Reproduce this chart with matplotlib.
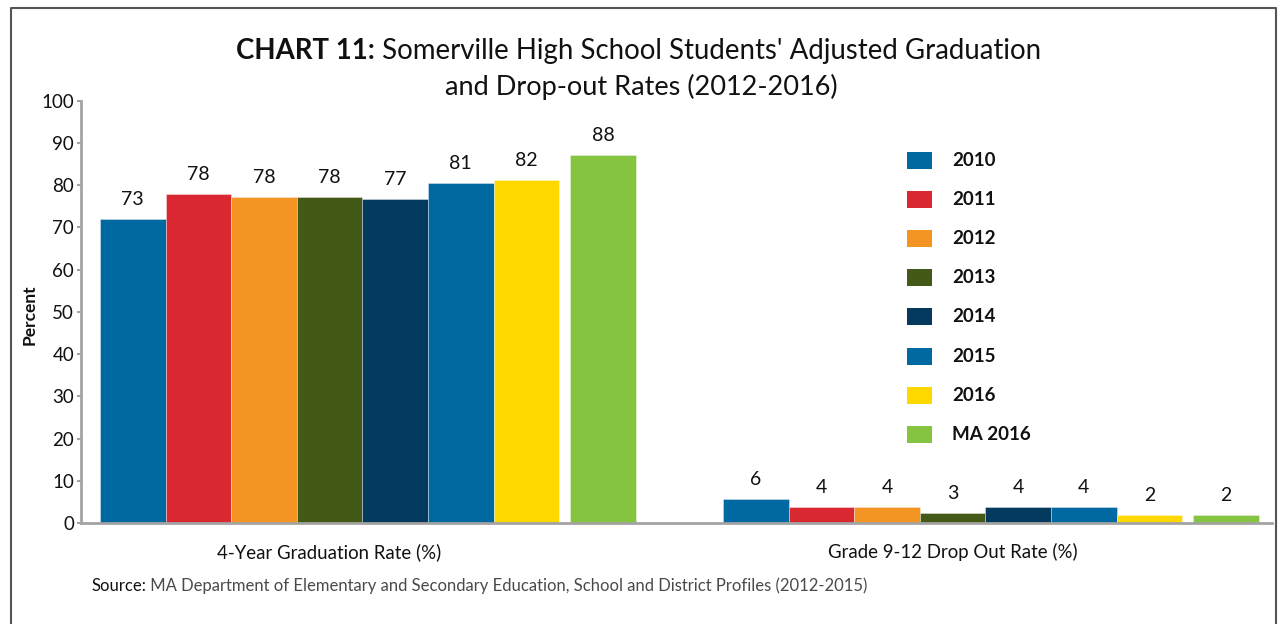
import matplotlib
matplotlib.use('Agg')
import matplotlib.pyplot as plt
from matplotlib.lines import Line2D
from matplotlib.patches import Rectangle
from matplotlib.transforms import blended_transform_factory

plt.rcParams['font.family'] = ['Lato', 'DejaVu Sans']

# ---------------- data ----------------
series = ['2010', '2011', '2012', '2013', '2014', '2015', '2016', 'MA 2016']
colors = ['#0069A1', '#DA2832', '#F49422', '#425A16', '#033A5E', '#0069A1', '#FFD800', '#84C441']
categories = ['4-Year Graduation Rate (%)', 'Grade 9-12 Drop Out Rate (%)']
grad_values = [72.0, 77.9, 77.2, 77.1, 76.7, 80.5, 81.2, 87.1]
grad_labels = ['73', '78', '78', '78', '77', '81', '82', '88']
drop_values = [5.7, 3.8, 3.8, 2.4, 3.8, 3.8, 1.9, 1.8]
drop_labels = ['6', '4', '4', '3', '4', '4', '2', '2']
y_ticks = list(range(0, 101, 10))
title_bold = 'CHART 11:'
title_line1 = " Somerville High School Students' Adjusted Graduation"
title_line2 = 'and Drop-out Rates (2012-2016)'
y_label = 'Percent'
source_bold = 'Source:'
source_text = ' MA Department of Elementary and Secondary Education, School and District Profiles (2012-2015)'

# ---------------- layout ----------------
W, H = 1282, 624
fig = plt.figure(figsize=(W / 100, H / 100), dpi=100)
fig.patch.set_facecolor('white')

ax_l, ax_r, ax_b, ax_t = 81, 1272, 523, 100.5
ax = fig.add_axes([ax_l / W, 1 - ax_b / H, (ax_r - ax_l) / W, (ax_b - ax_t) / H])
BW = 65.6  # bar width in px
group_start = [(100 - ax_l) / BW, (723 - ax_l) / BW]
ma_gap = 11 / BW

ax.set_xlim(0, (ax_r - ax_l) / BW)
ax.set_ylim(0, 100)

groups = [(grad_values, grad_labels), (drop_values, drop_labels)]
for g, (vals, labs) in enumerate(groups):
    for i, (v, lab) in enumerate(zip(vals, labs)):
        x = group_start[g] + i + (ma_gap if i == len(vals) - 1 else 0)
        ax.bar(x, v, width=1, align='edge', color=colors[i],
               edgecolor=(1, 1, 1, 0.5), linewidth=0.5)
        ax.annotate(lab, (x + 0.5, v), xytext=(0, 14), textcoords='offset points',
                    ha='center', va='center', fontsize=14, color='#111111')

axis_gray = '#A3A3A3'
for s in ['top', 'right']:
    ax.spines[s].set_visible(False)
for s in ['left', 'bottom']:
    ax.spines[s].set_color(axis_gray)
    ax.spines[s].set_linewidth(2.0)
ax.set_yticks(y_ticks)
ax.set_yticklabels([str(t) for t in y_ticks])
ax.tick_params(axis='y', length=3, width=1.5, color=axis_gray, labelsize=13.5,
               labelcolor='#111111', pad=2)
ax.set_xticks([])

# category labels
tr = blended_transform_factory(ax.transData, fig.transFigure)
for g, cat in enumerate(categories):
    ax.text(group_start[g] + 3.5, 1 - 552 / H, cat, transform=tr, ha='center',
            va='center', fontsize=13.4, color='#111111')

# y label
fig.text(30 / W, 1 - 315 / H, y_label, rotation=90, ha='center', va='center',
         fontsize=12.5, fontweight='bold', color='#111111')

# legend (manual)
for i, (name, c) in enumerate(zip(series, colors)):
    yc = 160.5 + i * 39.1
    fig.patches.append(Rectangle((907 / W, 1 - (yc + 8.5) / H), 25 / W, 17 / H,
                                 transform=fig.transFigure, facecolor=c, edgecolor='none'))
    fig.text(952 / W, 1 - yc / H, name, ha='left', va='center', fontsize=13.5,
             fontweight='bold', color='#111111')

# title with mixed weight
fig.canvas.draw()
renderer = fig.canvas.get_renderer()
t1 = fig.text(0, 1 - 51 / H, title_bold, ha='left', va='center', fontsize=19.9,
              fontweight='bold', color='#111111')
t2 = fig.text(0, 1 - 51 / H, title_line1, ha='left', va='center', fontsize=19.9,
              color='#111111')
w1 = t1.get_window_extent(renderer).width
w2 = t2.get_window_extent(renderer).width
cx = 638.5
x0 = cx - (w1 + w2) / 2
t1.set_x(x0 / W)
t2.set_x((x0 + w1) / W)
fig.text(641 / W, 1 - 87 / H, title_line2, ha='center', va='center', fontsize=19.5,
         color='#111111')

# source line
s1 = fig.text(91 / W, 1 - 586 / H, source_bold, ha='left', va='center', fontsize=12.0,
              color='#111111')
ws = s1.get_window_extent(renderer).width
fig.text((91 + ws) / W, 1 - 586 / H, source_text, ha='left', va='center', fontsize=12.0,
         color='#4a4a4a')

# border
bc = '#555555'
fig.lines.append(Line2D([11 / W, 11 / W, 1276 / W, 1276 / W],
                        [-0.05, 1 - 8 / H, 1 - 8 / H, -0.05],
                        transform=fig.transFigure, color=bc, linewidth=1.5))

fig.savefig('out.png', dpi=100, facecolor='white')
